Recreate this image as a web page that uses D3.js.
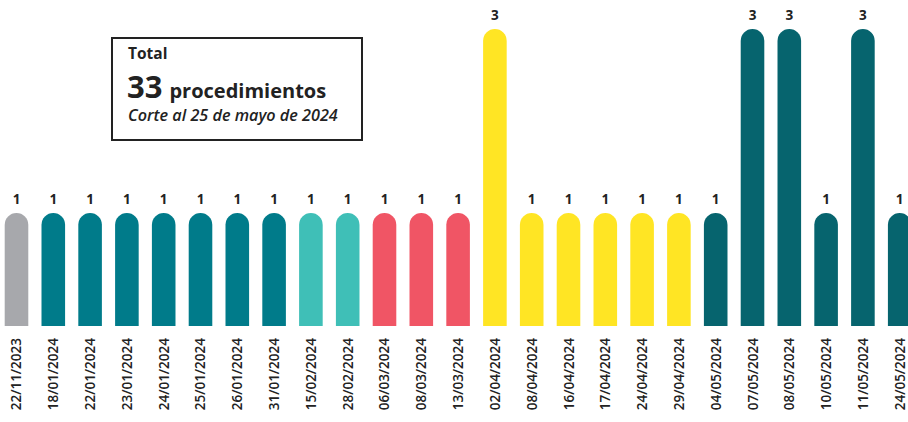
<!DOCTYPE html>
<html>
<head>
<meta charset="utf-8">
<script src="https://cdn.jsdelivr.net/npm/d3@7"></script>
<style>
  body { margin: 0; background: #fff; }
  svg { display: block; font-family: "Open Sans", "Noto Sans", sans-serif; }
  .val { font-size: 13.5px; font-weight: 700; fill: #222; }
  .date { font-size: 13.5px; font-weight: 600; fill: #222; }
</style>
</head>
<body>
<div id="chart"></div>
<script>
var dates = ["22/11/2023", "18/01/2024", "22/01/2024", "23/01/2024", "24/01/2024", "25/01/2024",
    "26/01/2024", "31/01/2024", "15/02/2024", "28/02/2024", "06/03/2024", "08/03/2024",
    "13/03/2024", "02/04/2024", "08/04/2024", "16/04/2024", "17/04/2024", "24/04/2024",
    "29/04/2024", "04/05/2024", "07/05/2024", "08/05/2024", "10/05/2024", "11/05/2024", "24/05/2024"];
var counts = [1, 1, 1, 1, 1, 1, 1, 1, 1, 1, 1, 1, 1, 3, 1, 1, 1, 1, 1, 1, 3, 3, 1, 3, 1];
var months = ["11/2023", "01/2024", "02/2024", "03/2024", "04/2024", "05/2024"];
var monthColors = ["#a7a8ac", "#007b8a", "#3fbfb7", "#f05565", "#ffe524", "#06646e"];

var width = 908, height = 422;
var baseline = 326;

var svg = d3.select("#chart").append("svg")
    .attr("width", width)
    .attr("height", height);

var x = d3.scaleBand()
    .domain(dates)
    .range([4.7, 911.5])
    .paddingInner(0.359)
    .paddingOuter(0);

// bars keep a fixed rounded stub under the value part
var y = d3.scaleLinear()
    .domain([-0.228, 3])
    .range([baseline, 29]);

var color = d3.scaleOrdinal()
    .domain(months)
    .range(monthColors);

var data = dates.map(function(d, i) {
    return { date: d, value: counts[i], month: d.slice(3) };
});

var r = x.bandwidth() / 2;

function barPath(d) {
    var x0 = x(d.date), x1 = x0 + x.bandwidth(), top = y(d.value);
    return "M" + x0 + "," + baseline +
        "L" + x0 + "," + (top + r) +
        "A" + r + "," + r + " 0 0 1 " + x1 + "," + (top + r) +
        "L" + x1 + "," + baseline + "Z";
}

svg.selectAll(".bar")
    .data(data)
    .enter()
    .append("path")
    .attr("class", "bar")
    .attr("d", barPath)
    .attr("fill", function(d) { return color(d.month); });

svg.selectAll(".val")
    .data(data)
    .enter()
    .append("text")
    .attr("class", "val")
    .attr("x", function(d) { return x(d.date) + r; })
    .attr("y", function(d) { return y(d.value) - 9; })
    .attr("text-anchor", "middle")
    .text(function(d) { return d.value; });

svg.selectAll(".date")
    .data(data)
    .enter()
    .append("text")
    .attr("class", "date")
    .attr("text-anchor", "end")
    .attr("transform", function(d) {
        return "translate(" + (x(d.date) + r + 5) + "," + (baseline + 12) + ")rotate(-90)";
    })
    .text(function(d) { return d.date; });

// total box
var box = svg.append("g").attr("transform", "translate(112,38)");

box.append("rect")
    .attr("width", 250)
    .attr("height", 102)
    .attr("fill", "#fff")
    .attr("stroke", "#222")
    .attr("stroke-width", 2);

box.append("text")
    .attr("x", 16)
    .attr("y", 21)
    .attr("font-size", 15.5)
    .attr("font-weight", 700)
    .attr("fill", "#222")
    .text("Total");

var big = box.append("text")
    .attr("x", 15)
    .attr("y", 60)
    .attr("fill", "#222")
    .attr("font-weight", 700);
big.append("tspan").attr("font-size", 31).text("33");
big.append("tspan").attr("font-size", 20).attr("dx", 7).text("procedimientos");

box.append("text")
    .attr("x", 16)
    .attr("y", 83)
    .attr("font-size", 16.2)
    .attr("font-weight", 600)
    .attr("font-style", "italic")
    .attr("fill", "#222")
    .text("Corte al 25 de mayo de 2024");
</script>
</body>
</html>
